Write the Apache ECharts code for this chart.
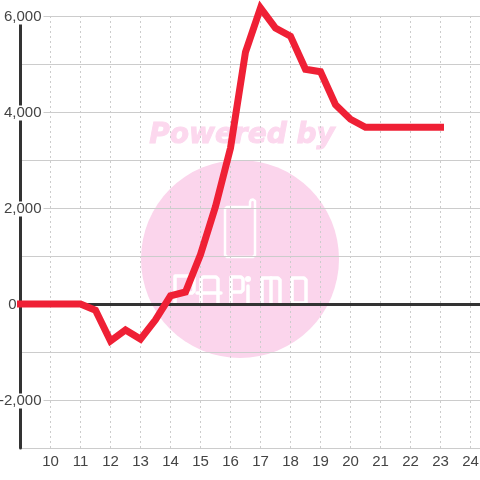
<!DOCTYPE html>
<html>
<head>
<meta charset="utf-8">
<style>
  html, body { margin: 0; padding: 0; background: #fff; }
  #chart { width: 480px; height: 480px; }
</style>
<script src="https://cdn.jsdelivr.net/npm/echarts@6/dist/echarts.min.js"></script>
</head>
<body>
<div id="chart"></div>
<script>
  const FONT = '"Liberation Sans", Arial, sans-serif';
  const hours = [9, 9.5, 10, 10.5, 11, 11.5, 12, 12.5, 13, 13.5, 14, 14.5, 15, 15.5, 16, 16.5, 17, 17.5, 18, 18.5, 19, 19.5, 20, 20.5, 21, 21.5, 22, 22.5, 23];
  const values = [0, 0, 0, 0, 0, -130, -770, -540, -730, -330, 170, 250, 1030, 2030, 3250, 5250, 6170, 5750, 5580, 4890, 4840, 4150, 3850, 3680, 3680, 3680, 3680, 3680, 3680];
  const yLabels = [6000, 4000, 2000, 0, -2000];

  // watermark logo outlines
  const phoneStyle = { fill: 'none', stroke: '#fff', lineWidth: 2.5, lineJoin: 'round', lineCap: 'round' };
  const letterStyle = { fill: 'none', stroke: '#fff', lineWidth: 3.5, lineJoin: 'round', lineCap: 'round' };
  const phoneLine = [[250, 207], [227, 207], [225, 209], [225, 255], [227, 257], [253, 257], [255, 255], [255, 201], [253, 199.5], [251, 200], [250, 202], [250, 207]];
  const letterLines = [
    [[175, 303], [175, 276], [192, 276], [194, 278], [194, 291], [192, 293], [175, 293]],
    [[201, 303], [201, 279], [203, 277], [216, 277], [218, 279], [218, 303]],
    [[197, 293], [221, 293]],
    [[231, 303], [231, 277], [241, 277], [243, 279], [243, 290], [241, 292], [231, 292]],
    [[248, 286], [248, 303]],
    [[262, 303], [262, 278], [278, 278], [280, 280], [280, 303]],
    [[271, 278], [271, 303]],
    [[292, 303], [292, 278], [304, 278], [306, 280], [306, 303], [292, 303]]
  ];

  const chart = echarts.init(document.getElementById('chart'), null, { renderer: 'canvas' });

  chart.setOption({
    animation: false,
    backgroundColor: '#fff',
    textStyle: { fontFamily: FONT },
    grid: { left: 20.5, right: 0, top: 16, bottom: 32, outerBoundsMode: 'none' },
    graphic: [
      { type: 'circle', z: -10, silent: true, shape: { cx: 240, cy: 259, r: 99 }, style: { fill: '#fbd5ec' } },
      {
        type: 'text', z: -10, silent: true, x: 242, y: 135.5,
        style: { text: 'Powered by', fill: '#fcd8ee', stroke: '#fcd8ee', lineWidth: 1, font: 'italic bold 28px "DejaVu Sans"', align: 'center', verticalAlign: 'middle' }
      },
      { type: 'circle', z: -9, silent: true, shape: { cx: 248, cy: 279, r: 3 }, style: { fill: '#fff' } },
      { type: 'polyline', z: -9, silent: true, shape: { points: phoneLine }, style: phoneStyle }
    ].concat(letterLines.map(points => ({
      type: 'polyline', z: -9, silent: true, shape: { points: points }, style: letterStyle
    }))),
    xAxis: [
      {
        type: 'value', min: 9, max: 24.317, interval: 1,
        axisLine: { onZero: false, show: false },
        axisTick: { show: false },
        axisLabel: { color: '#444', fontSize: 15, margin: 6, showMinLabel: false, showMaxLabel: false, fontFamily: FONT },
        splitLine: { show: true, lineStyle: { color: '#ccc', width: 1, type: [2, 3] } }
      },
      {
        // heavy zero line, no labels
        type: 'value', min: 9, max: 24.317,
        axisLine: { onZero: true, lineStyle: { color: '#333', width: 3 } },
        axisTick: { show: false },
        axisLabel: { show: false },
        splitLine: { show: false }
      }
    ],
    yAxis: {
      type: 'value', min: -3000, max: 6000, interval: 1000,
      axisLine: { show: true, lineStyle: { color: '#333', width: 3 } },
      axisTick: { show: false },
      splitLine: { show: true, lineStyle: { color: '#ccc', width: 1 } },
      axisLabel: {
        inside: true, margin: 23, align: 'right', showMinLabel: false, padding: [2, 0, 0, 0],
        formatter: function (v) {
          if (!yLabels.includes(v)) return '';
          if (v === 0) return '{z|0}';
          return '{b|' + v.toLocaleString('en-US') + '}';
        },
        rich: {
          b: { color: '#444', fontSize: 15, lineHeight: 14, fontFamily: FONT, backgroundColor: '#fff', padding: [0, 2, 0, 2] },
          z: { color: '#444', fontSize: 15, lineHeight: 14, fontFamily: FONT, padding: [0, 27, 0, 0] }
        }
      }
    },
    series: [{
      type: 'line',
      xAxisIndex: 0,
      data: hours.map((h, i) => [h, values[i]]),
      showSymbol: false,
      clip: false,
      z: 5,
      lineStyle: { color: '#ef2035', width: 7, cap: 'square', join: 'miter' }
    }]
  });
</script>
</body>
</html>
